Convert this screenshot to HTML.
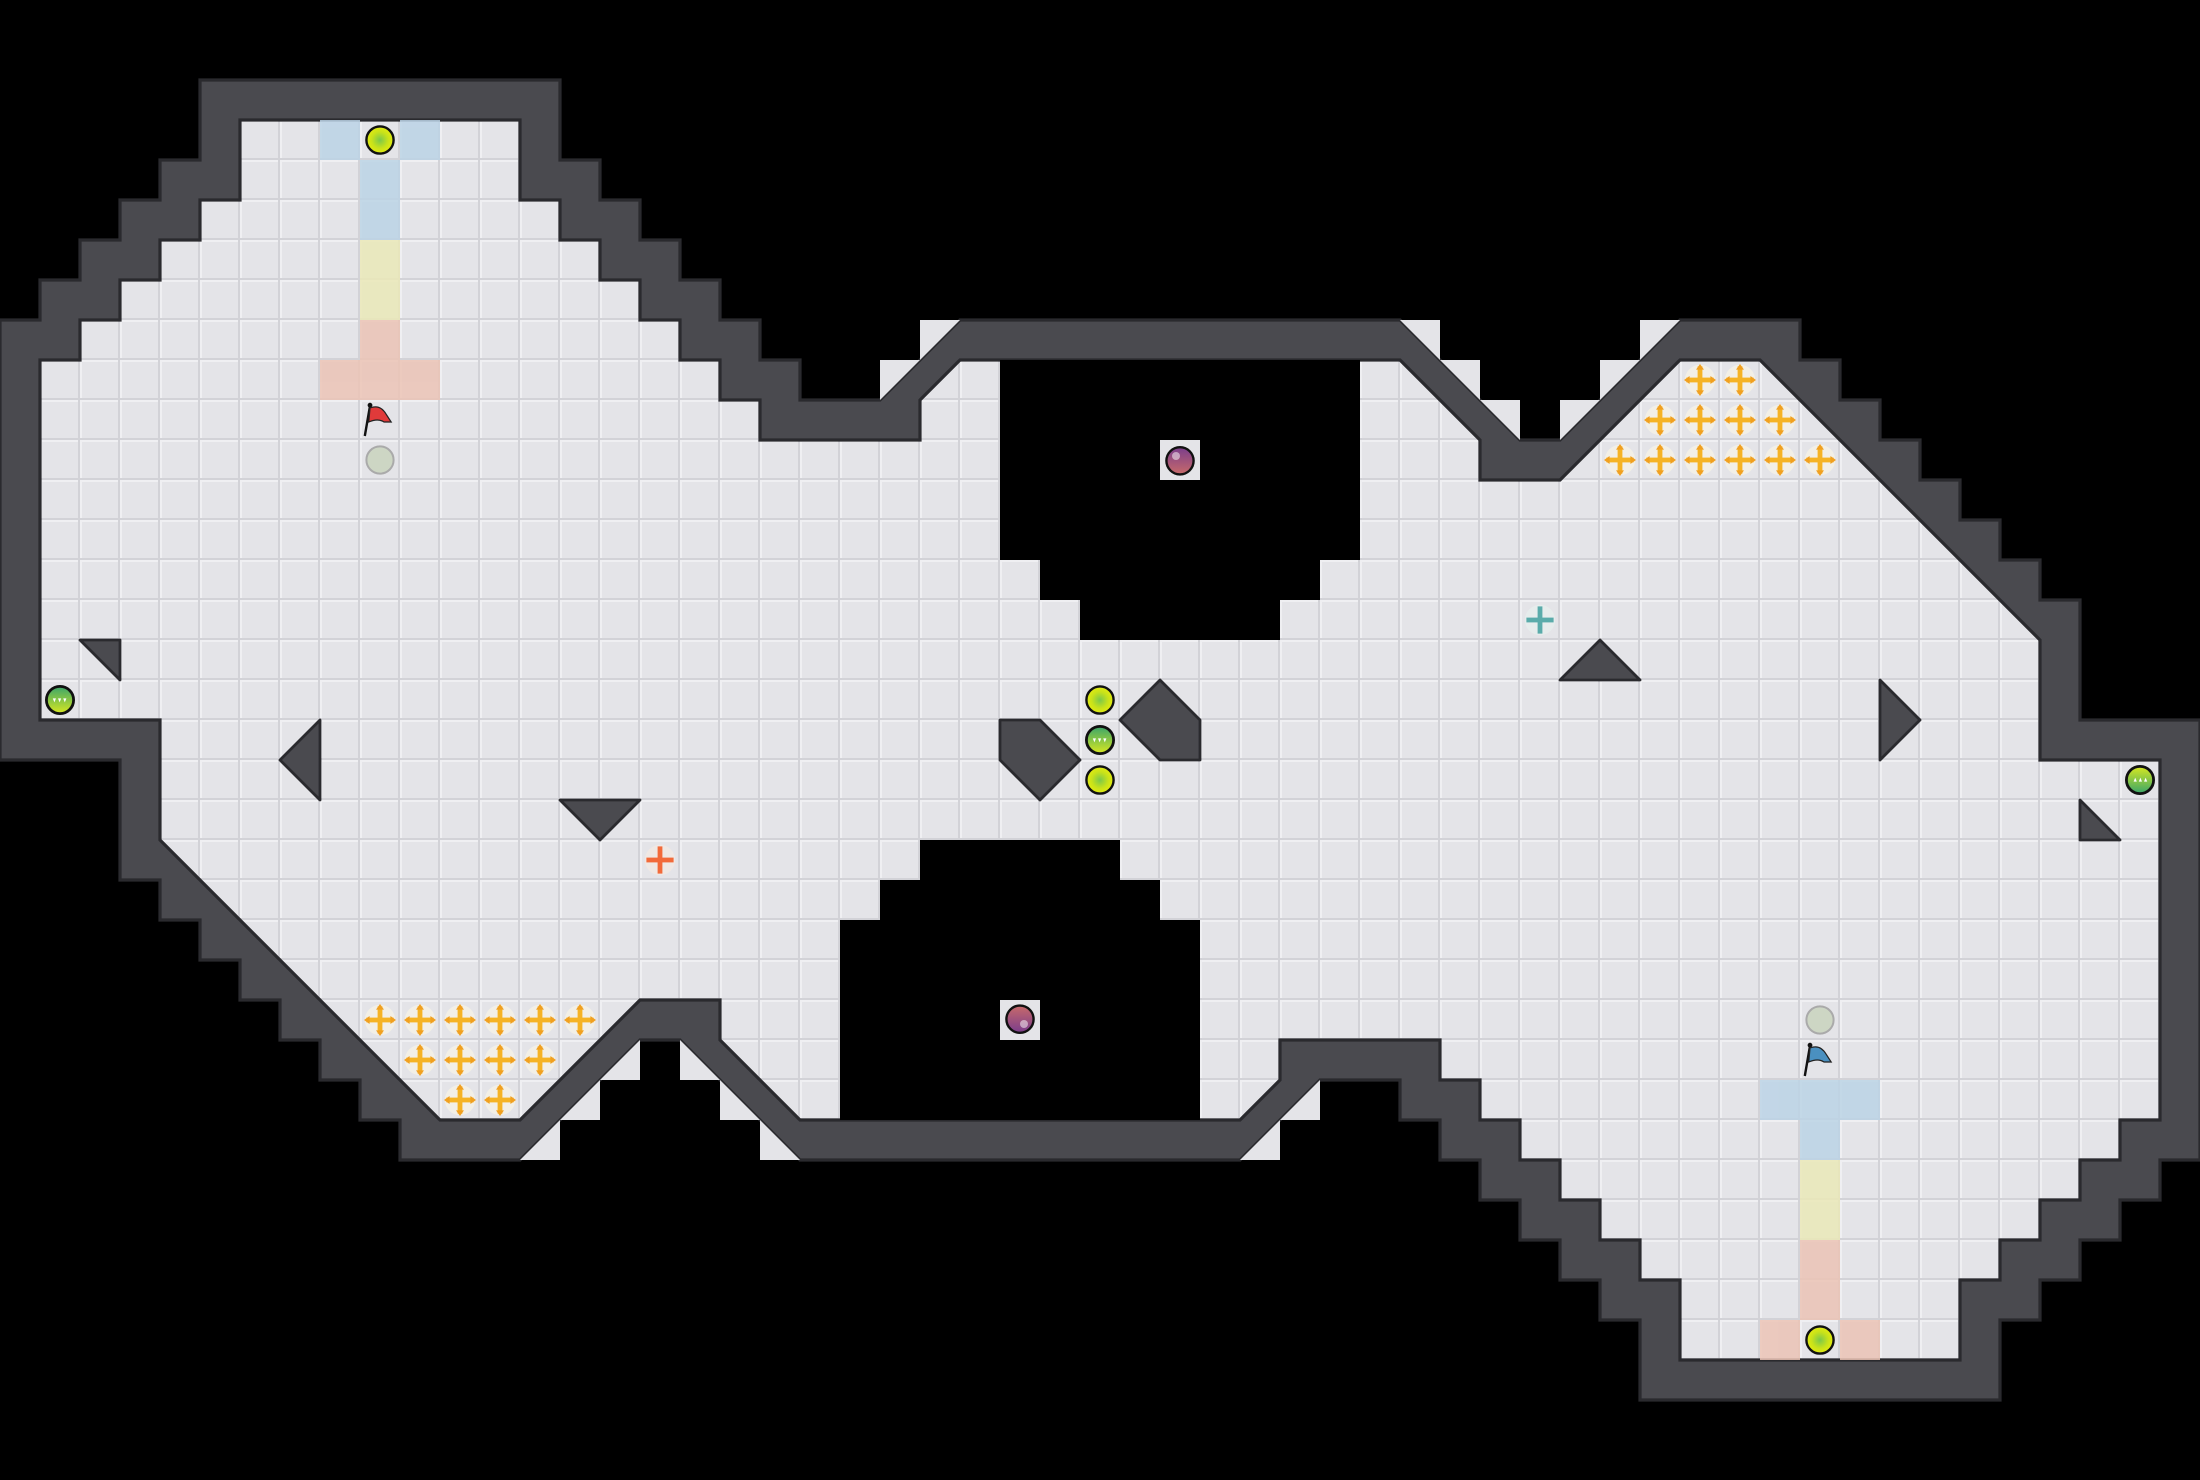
<!DOCTYPE html>
<html><head><meta charset="utf-8"><style>
html,body{margin:0;padding:0;background:#000;}
svg{display:block;}
</style></head><body>
<svg width="2200" height="1480" viewBox="0 0 55 37" xmlns="http://www.w3.org/2000/svg">
<defs>
<pattern id="g" width="1" height="1" patternUnits="userSpaceOnUse">
<rect width="1" height="1" fill="#e4e4e8"/>
<rect x="0" y="0" width="1" height="0.05" fill="#efeff2"/>
<rect x="0" y="0" width="0.05" height="1" fill="#efeff2"/>
<rect x="0" y="0.95" width="1" height="0.05" fill="#d2d2d7"/>
<rect x="0.95" y="0" width="0.05" height="1" fill="#d2d2d7"/>
</pattern>
<radialGradient id="yb" cx="0.5" cy="0.5" r="0.5"><stop offset="0" stop-color="#7cc84a"/><stop offset="0.6" stop-color="#c8e21a"/><stop offset="1" stop-color="#e4ec10"/></radialGradient>
<linearGradient id="gb" x1="0" y1="0" x2="0" y2="1"><stop offset="0" stop-color="#3aa56a"/><stop offset="1" stop-color="#d8e820"/></linearGradient>
<linearGradient id="pb" x1="0" y1="0" x2="0" y2="1"><stop offset="0" stop-color="#7a3d8c"/><stop offset="1" stop-color="#c86a6a"/></linearGradient>
<g id="cross">
<circle r="0.38" fill="#f2efe6"/>
<rect x="-0.06" y="-0.34" width="0.12" height="0.68" fill="#f5b324"/>
<rect x="-0.34" y="-0.06" width="0.68" height="0.12" fill="#f5b324"/>
<polygon points="0,-0.4 -0.1,-0.26 0.1,-0.26" fill="#f0a020"/>
<polygon points="0,0.4 -0.1,0.26 0.1,0.26" fill="#f0a020"/>
<polygon points="-0.4,0 -0.26,-0.1 -0.26,0.1" fill="#f0a020"/>
<polygon points="0.4,0 0.26,-0.1 0.26,0.1" fill="#f0a020"/>
</g>
<g id="yball"><circle r="0.34" fill="url(#yb)" stroke="#111" stroke-width="0.06"/></g>
<g id="gboost"><circle r="0.34" fill="url(#gb)" stroke="#111" stroke-width="0.07"/>
<polygon points="-0.18,-0.04 -0.1,-0.04 -0.14,0.06" fill="#fff"/><polygon points="-0.05,-0.04 0.03,-0.04 -0.01,0.06" fill="#fff"/><polygon points="0.08,-0.04 0.16,-0.04 0.12,0.06" fill="#fff"/></g>
<g id="half">
<g fill="#e4e4e8">
<polygon points="23,8 24,8 23,9"/><polygon points="22,9 23,9 22,10"/>
<polygon points="35,8 36,8 36,9"/><polygon points="36,9 37,9 37,10"/><polygon points="37,10 38,10 38,11"/>
<polygon points="39,10 40,10 39,11"/><polygon points="40,9 41,9 40,10"/><polygon points="41,8 42,8 41,9"/>
</g>
<polygon points="25,9 34,9 34,14 33,14 33,15 32,15 32,16 27,16 27,15 26,15 26,14 25,14" fill="#000"/>
<g fill="#4a4a4f" stroke="#2a2a2e" stroke-width="0.07" stroke-linejoin="round">
<polygon points="2,16 3,16 3,17"/>
<polygon points="8,18 8,20 7,19"/>
<polygon points="14,20 16,20 15,21"/>
<polygon points="25,18 26,18 27,19 26,20 25,19"/>
</g>
<rect x="29" y="11" width="1" height="1" fill="#e4e4e8"/>
<circle cx="29.5" cy="11.52" r="0.34" fill="url(#pb)" stroke="#111" stroke-width="0.06"/>
<circle cx="29.4" cy="11.4" r="0.1" fill="#fff" opacity="0.5"/>
<use href="#cross" x="9.5" y="25.5"/><use href="#cross" x="10.5" y="25.5"/><use href="#cross" x="11.5" y="25.5"/><use href="#cross" x="12.5" y="25.5"/><use href="#cross" x="13.5" y="25.5"/><use href="#cross" x="14.5" y="25.5"/>
<use href="#cross" x="10.5" y="26.5"/><use href="#cross" x="11.5" y="26.5"/><use href="#cross" x="12.5" y="26.5"/><use href="#cross" x="13.5" y="26.5"/>
<use href="#cross" x="11.5" y="27.5"/><use href="#cross" x="12.5" y="27.5"/>
<use href="#gboost" x="1.5" y="17.5"/>
<use href="#yball" x="27.5" y="17.5"/>
<circle cx="9.5" cy="11.5" r="0.34" fill="#cdd6c4" stroke="#aaa" stroke-width="0.05"/>
</g>
</defs>

<polygon fill="#4a4a4f" stroke="#2a2a2e" stroke-width="0.08" stroke-linejoin="miter" points="5,2 14,2 14,4 15,4 15,5 16,5 16,6 17,6 17,7 18,7 18,8 19,8 19,9 20,9 20,10 22,10 24,8 35,8 38,11 39,11 42,8 45,8 45,9 46,9 46,10 47,10 47,11 48,11 48,12 49,12 49,13 50,13 50,14 51,14 51,15 52,15 52,18 55,18 55,29 54,29 54,30 53,30 53,31 52,31 52,32 51,32 51,33 50,33 50,35 41,35 41,33 40,33 40,32 39,32 39,31 38,31 38,30 37,30 37,29 36,29 36,28 35,28 35,27 33,27 31,29 20,29 17,26 16,26 13,29 10,29 10,28 9,28 9,27 8,27 8,26 7,26 7,25 6,25 6,24 5,24 5,23 4,23 4,22 3,22 3,19 0,19 0,8 1,8 1,7 2,7 2,6 3,6 3,5 4,5 4,4 5,4"/>
<polygon fill="url(#g)" stroke="#2a2a2e" stroke-width="0.08" points="6,3 13,3 13,5 14,5 14,6 15,6 15,7 16,7 16,8 17,8 17,9 18,9 18,10 19,10 19,11 23,11 23,10 24,9 35,9 37,11 37,12 39,12 42,9 44,9 51,16 51,19 54,19 54,28 53,28 53,29 52,29 52,30 51,30 51,31 50,31 50,32 49,32 49,34 42,34 42,32 41,32 41,31 40,31 40,30 39,30 39,29 38,29 38,28 37,28 37,27 36,27 36,26 32,26 32,27 31,28 20,28 18,26 18,25 16,25 13,28 11,28 4,21 4,18 1,18 1,9 2,9 2,8 3,8 3,7 4,7 4,6 5,6 5,5 6,5"/>

<g opacity="0.85">
<rect x="8" y="3" width="1" height="1" fill="#bcd4e6"/><rect x="10" y="3" width="1" height="1" fill="#bcd4e6"/>
<rect x="9" y="4" width="1" height="2" fill="#bcd4e6"/>
<rect x="9" y="6" width="1" height="2" fill="#ebe9b8"/>
<rect x="9" y="8" width="1" height="1" fill="#ecc4b6"/>
<rect x="8" y="9" width="3" height="1" fill="#ecc4b6"/>
<rect x="44" y="27" width="3" height="1" fill="#bcd4e6"/>
<rect x="45" y="28" width="1" height="1" fill="#bcd4e6"/>
<rect x="45" y="29" width="1" height="2" fill="#ebe9b8"/>
<rect x="45" y="31" width="1" height="2" fill="#ecc4b6"/>
<rect x="44" y="33" width="1" height="1" fill="#ecc4b6"/><rect x="46" y="33" width="1" height="1" fill="#ecc4b6"/>
</g>

<use href="#half"/>
<use href="#half" transform="rotate(180 27.5 18.5)"/>

<use href="#gboost" x="27.5" y="18.5"/>
<use href="#yball" x="9.5" y="3.5"/>
<use href="#yball" x="45.5" y="33.5"/>

<g transform="translate(16.5 21.5)">
<circle r="0.38" fill="#efe8e4"/>
<rect x="-0.06" y="-0.34" width="0.12" height="0.68" fill="#f26a3a"/>
<rect x="-0.34" y="-0.06" width="0.68" height="0.12" fill="#f26a3a"/>
</g>
<g transform="translate(38.5 15.5)">
<circle r="0.38" fill="#e6ecec"/>
<rect x="-0.06" y="-0.34" width="0.12" height="0.68" fill="#5aabaa"/>
<rect x="-0.34" y="-0.06" width="0.68" height="0.12" fill="#5aabaa"/>
</g>

<g transform="translate(9 10)">
<line x1="0.12" y1="0.9" x2="0.25" y2="0.15" stroke="#111" stroke-width="0.06"/>
<circle cx="0.25" cy="0.13" r="0.06" fill="#111"/>
<path d="M0.25,0.2 Q0.5,0.1 0.65,0.35 L0.78,0.55 L0.6,0.55 Q0.45,0.45 0.22,0.55 Z" fill="#e03a3a" stroke="#222" stroke-width="0.03"/>
</g>
<g transform="translate(45 26)">
<line x1="0.12" y1="0.9" x2="0.25" y2="0.15" stroke="#111" stroke-width="0.06"/>
<circle cx="0.25" cy="0.13" r="0.06" fill="#111"/>
<path d="M0.25,0.2 Q0.5,0.1 0.65,0.35 L0.78,0.55 L0.6,0.55 Q0.45,0.45 0.22,0.55 Z" fill="#4a90c0" stroke="#222" stroke-width="0.03"/>
</g>
</svg>
</body></html>
